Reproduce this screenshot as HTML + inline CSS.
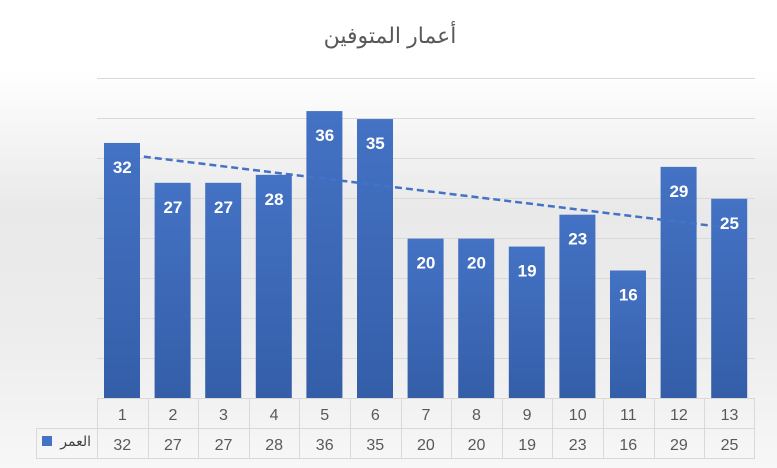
<!DOCTYPE html>
<html><head><meta charset="utf-8"><style>
body{margin:0;width:777px;height:468px;overflow:hidden;background:linear-gradient(#fff 0%,#fff 15%,#e9e9e9 45%,#ececec 70%,#f7f7f7 100%);font-family:"Liberation Sans","DejaVu Sans",sans-serif}
</style></head><body>
<svg width="777" height="468" xmlns="http://www.w3.org/2000/svg" style="position:absolute;left:0;top:0">
<defs><linearGradient id="b" x1="0" y1="0" x2="0" y2="1"><stop offset="0" stop-color="#4472c4"/><stop offset="1" stop-color="#345ea8"/></linearGradient></defs>
<text x="390" y="43" text-anchor="middle" font-size="22" fill="#595959" font-family="'Liberation Sans','DejaVu Sans',sans-serif">أعمار المتوفين</text>
<g stroke="#d9d9d9" stroke-width="1">
<line x1="97" x2="755" y1="78.5" y2="78.5"/><line x1="97" x2="755" y1="118.5" y2="118.5"/><line x1="97" x2="755" y1="158.5" y2="158.5"/><line x1="97" x2="755" y1="198.5" y2="198.5"/><line x1="97" x2="755" y1="238.5" y2="238.5"/><line x1="97" x2="755" y1="278.5" y2="278.5"/><line x1="97" x2="755" y1="318.5" y2="318.5"/><line x1="97" x2="755" y1="358.5" y2="358.5"/>
</g>
<g id="bars"></g>
<line x1="122" y1="154" x2="730" y2="228" stroke="#4472c4" stroke-width="2.5" stroke-dasharray="7,4"/>
<g id="labels" font-weight="bold" font-size="17" fill="#fff" text-anchor="middle"></g>
<g stroke="#d9d9d9" stroke-width="1" fill="none">
<rect x="36.5" y="428.5" width="718" height="30"/>
<line x1="97" x2="755" y1="398.5" y2="398.5"/>
</g>
<g id="cols"></g>
<rect x="42" y="436" width="10" height="10" fill="#4472c4"/>
<text x="91" y="446" text-anchor="end" font-size="14" fill="#404040">العمر</text>
<g id="tbl" font-size="16" fill="#595959" text-anchor="middle"></g>
</svg>
<script>
const v=[32,27,27,28,36,35,20,20,19,23,16,29,25];
const ns="http://www.w3.org/2000/svg";
const B=document.getElementById('bars'),L=document.getElementById('labels'),C=document.getElementById('cols'),T=document.getElementById('tbl');
const w=50.6;
v.forEach((d,i)=>{
 const x0=97+i*w, h=d*7.97, cx=x0+w/2;
 let r=document.createElementNS(ns,'rect');r.setAttribute('x',x0+7);r.setAttribute('y',398-h);r.setAttribute('width',36);r.setAttribute('height',h);r.setAttribute('fill','url(#b)');B.appendChild(r);
 let t=document.createElementNS(ns,'text');t.setAttribute('x',cx);t.setAttribute('y',398-h+30);t.textContent=d;L.appendChild(t);
 let l=document.createElementNS(ns,'line');l.setAttribute('x1',Math.round(x0)+.5);l.setAttribute('x2',Math.round(x0)+.5);l.setAttribute('y1',398);l.setAttribute('y2',458);l.setAttribute('stroke','#d9d9d9');C.appendChild(l);
 let a=document.createElementNS(ns,'text');a.setAttribute('x',cx);a.setAttribute('y',420);a.textContent=i+1;T.appendChild(a);
 let b=document.createElementNS(ns,'text');b.setAttribute('x',cx);b.setAttribute('y',450);b.textContent=d;T.appendChild(b);
});
let l=document.createElementNS(ns,'line');l.setAttribute('x1',754.5);l.setAttribute('x2',754.5);l.setAttribute('y1',398);l.setAttribute('y2',458);l.setAttribute('stroke','#d9d9d9');C.appendChild(l);
</script>
</body></html>
